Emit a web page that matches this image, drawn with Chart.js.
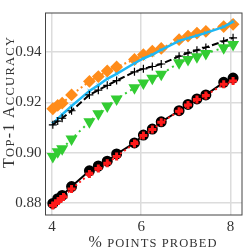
<!DOCTYPE html>
<html>
<head>
<meta charset="UTF-8">
<title>Top-1 accuracy vs points probed</title>
<script src="https://cdn.jsdelivr.net/npm/chart.js"></script>
<style>
  body { margin: 0; background: #fff; }
  #wrap { width: 249px; height: 249px; }
</style>
</head>
<body>
<div id="wrap"><canvas id="chart" width="249" height="249"></canvas></div>
<script>
// x positions (% points probed) shared by most series
const xs = [4.02, 4.13, 4.23, 4.44, 4.84, 5.04, 5.24, 5.45, 5.85, 6.05, 6.25, 6.45, 6.85, 7.05, 7.25, 7.45, 7.85, 8.06];
const orangeY = [0.9175, 0.9188, 0.9197, 0.9230, 0.9284, 0.9303, 0.9325, 0.9341, 0.9371, 0.9390, 0.9404, 0.9415, 0.9450, 0.9464, 0.9476, 0.9483, 0.9502, 0.9511];
const cyanY   = [0.9116, 0.9135, 0.9152, 0.9186, 0.9246, 0.9269, 0.9294, 0.9314, 0.9356, 0.9375, 0.9390, 0.9409, 0.9445, 0.9456, 0.9466, 0.9477, 0.9501, 0.9522];
const dashY   = [0.9111, 0.9126, 0.9137, 0.9167, 0.9230, 0.9249, 0.9268, 0.9287, 0.9322, 0.9334, 0.9343, 0.9353, 0.9384, 0.9397, 0.9408, 0.9419, 0.9444, 0.9457];
const greenY  = [0.8985, 0.9004, 0.9016, 0.9054, 0.9123, 0.9155, 0.9186, 0.9214, 0.9258, 0.9277, 0.9296, 0.9312, 0.9358, 0.9371, 0.9382, 0.9395, 0.9418, 0.9431];
const blackY  = [0.8798, 0.8817, 0.8830, 0.8865, 0.8928, 0.8947, 0.8966, 0.8995, 0.9039, 0.9070, 0.9094, 0.9123, 0.9167, 0.9192, 0.9214, 0.9230, 0.9280, 0.9297];
const redX    = [4.02, 4.08, 4.14, 4.20, 4.26, 4.44, 4.84, 5.04, 5.24, 5.45, 5.85, 6.05, 6.25, 6.45, 6.85, 7.05, 7.25, 7.45, 7.85, 8.06];
const redY    = [0.8790, 0.8798, 0.8808, 0.8816, 0.8824, 0.8855, 0.8915, 0.8937, 0.8958, 0.8985, 0.9037, 0.9068, 0.9092, 0.9121, 0.9165, 0.9190, 0.9212, 0.9228, 0.9272, 0.9285];
const xTicks = [4, 6, 8];
const yTicks = [0.88, 0.90, 0.92, 0.94];
const xTitle = '% points probed';
const yTitle = 'Top-1 Accuracy';

const pts = (x, y) => x.map((v, i) => ({ x: v, y: y[i] }));
const serif = "'Liberation Serif', serif";

// small caps by hand: lowercase letters drawn as smaller capitals,
// spread out to the given total width
function smallCaps(ctx, text, cx, baseline, big, small, width) {
  const parts = [...text].map(ch => {
    const low = ch !== ch.toUpperCase();
    return { s: low ? ch.toUpperCase() : ch, f: (low || ch === ' ' ? small : big) + 'px ' + serif };
  });
  let w = 0;
  parts.forEach(p => { ctx.font = p.f; p.w = ctx.measureText(p.s).width; w += p.w; });
  const gap = Math.max(0, (width - w) / (parts.length - 1));
  let x = cx - (w + gap * (parts.length - 1)) / 2;
  ctx.textAlign = 'left';
  ctx.textBaseline = 'alphabetic';
  parts.forEach(p => { ctx.font = p.f; ctx.fillText(p.s, x, baseline); x += p.w + gap; });
}

const frame = {
  id: 'frame',
  afterDraw(c) {
    const a = c.chartArea, ctx = c.ctx;
    ctx.save();
    ctx.strokeStyle = '#444';
    ctx.lineWidth = 1;
    ctx.strokeRect(a.left, a.top, a.right - a.left, a.bottom - a.top);
    ctx.fillStyle = '#333';
    smallCaps(ctx, xTitle, 152.5, 246.5, 16, 12.5, 128);
    ctx.translate(13.5, 102.5);
    ctx.rotate(-Math.PI / 2);
    smallCaps(ctx, yTitle, 0, 0, 16, 12.5, 131);
    ctx.restore();
  }
};

new Chart(document.getElementById('chart'), {
  type: 'scatter',
  data: {
    datasets: [
      { data: pts(redX, redY), showLine: true, borderColor: '#ff1a1a', backgroundColor: '#ff1a1a',
        borderWidth: 2, borderDash: [2, 3], pointStyle: 'cross', pointRadius: 4, pointBorderWidth: 3 },
      { data: pts(xs, blackY), showLine: true, borderColor: '#000', backgroundColor: '#000',
        borderWidth: 2, pointStyle: 'circle', pointRadius: 4.5 },
      { data: pts(xs, greenY), showLine: true, borderColor: '#33cc33', backgroundColor: '#33cc33',
        borderWidth: 2, borderDash: [2, 4], pointStyle: 'triangle', rotation: 180, pointRadius: 5 },
      { data: pts(xs, dashY), showLine: true, borderColor: '#000', backgroundColor: '#000',
        borderWidth: 2, borderDash: [7, 3], pointStyle: 'cross', pointRadius: 4, pointBorderWidth: 1.2 },
      { data: pts(xs, cyanY), showLine: true, borderColor: '#1eb8f5', backgroundColor: '#1eb8f5',
        borderWidth: 2.5, pointStyle: 'crossRot', pointRadius: 2.5, pointBorderWidth: 1 },
      { data: pts(xs, orangeY), showLine: true, borderColor: '#ff8c1a', backgroundColor: '#ff8c1a',
        borderWidth: 2, borderDash: [2, 3], pointStyle: 'rectRot', pointRadius: 5 }
    ]
  },
  options: {
    responsive: false,
    animation: false,
    layout: { padding: { top: 2, right: 1.5, left: 0, bottom: 0 } },
    plugins: { legend: { display: false }, tooltip: { enabled: false } },
    scales: {
      x: {
        type: 'linear', min: 3.856, max: 8.26,
        afterBuildTicks: s => { s.ticks = xTicks.map(v => ({ value: v })); },
        afterFit: s => { s.height = 34; },
        grid: { color: '#dcdcdc', lineWidth: 1.5, drawTicks: false },
        border: { display: false },
        ticks: { color: '#333', padding: 3, font: { family: serif, size: 15 }, callback: v => String(v) }
      },
      y: {
        type: 'linear', min: 0.8752, max: 0.9556,
        afterBuildTicks: s => { s.ticks = yTicks.map(v => ({ value: v })); },
        afterFit: s => { s.width = 45.5; },
        grid: { color: '#dcdcdc', lineWidth: 1.5, drawTicks: false },
        border: { display: false },
        ticks: { color: '#333', padding: 4, font: { family: serif, size: 15 }, callback: v => v.toFixed(2) }
      }
    }
  },
  plugins: [frame]
});
</script>
</body>
</html>
